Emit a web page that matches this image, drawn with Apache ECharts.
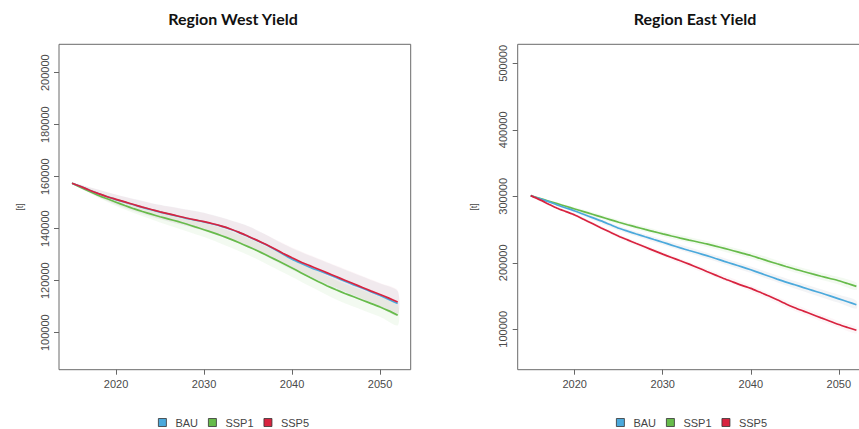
<!DOCTYPE html>
<html>
<head>
<meta charset="utf-8">
<script src="https://cdn.jsdelivr.net/npm/echarts@6/dist/echarts.min.js"></script>
<style>
html,body{margin:0;padding:0;background:#fff;}
#chart{width:859px;height:429px;}
</style>
</head>
<body>
<div id="chart"></div>
<script>
// ---------- data ----------
const years = [2015,2016,2017,2018,2019,2020,2021,2022,2023,2024,2025,2026,2027,2028,2029,2030,2031,2032,2033,2034,2035,2036,2037,2038,2039,2040,2041,2042,2043,2044,2045,2046,2047,2048,2049,2050,2051,2052];

const westBAU  = [157500,156200,154800,153500,152300,151200,150200,149200,148200,147300,146400,145600,144800,144000,143300,142600,141800,140900,139800,138500,137000,135500,133900,132100,130200,128300,126700,125200,123900,122600,121200,119800,118400,117100,115700,114300,112800,111200];
const westSSP1 = [157500,155900,154300,152800,151500,150200,148900,147700,146600,145600,144600,143700,142800,141800,140700,139600,138500,137300,136000,134600,133100,131600,130000,128300,126600,124900,123100,121300,119600,118000,116500,115100,113800,112500,111200,109900,108400,106700];
const westSSP5 = [157500,156200,154800,153500,152300,151300,150300,149300,148300,147400,146500,145700,144900,144100,143400,142700,141900,141000,139900,138600,137100,135600,134000,132300,130500,128800,127200,125800,124400,123000,121600,120200,118800,117400,116000,114700,113300,111800];

const eastBAU  = [301000,296500,292000,287000,282500,278000,273000,268000,263000,257500,252000,247600,243300,239100,235000,231000,226600,222400,218500,214700,210800,206500,202200,198000,193800,189500,184800,180200,175500,171000,167000,162700,158600,154500,150200,145800,141400,137000];
const eastSSP1 = [301000,297000,293000,289000,285000,281000,277000,273000,269000,265000,261000,257300,253700,250200,246800,243500,240300,237200,234200,231300,228400,225000,221700,218200,214600,211000,206800,202600,198500,194500,190600,186900,183300,179800,176400,173000,168800,164500];
const eastSSP5 = [301000,295000,288500,282000,277000,272000,265500,259000,252500,246200,240000,234500,229000,223700,218300,213000,208000,203000,198000,192600,187000,181500,176000,171000,166000,161500,156000,150500,144500,138200,132500,127400,122300,117200,112200,107200,102800,98500];

// uncertainty ribbons: half-widths read at these years
const bandYears = [2015,2020,2025,2030,2035,2040,2045,2050,2052];
const westBAUSpread  = [300,2000,2800,3500,4000,4200,4400,4600,4700];
const westSSP1Spread = [300,1500,2200,2800,3200,3500,3700,3800,3900];
const westSSP5Spread = [300,1800,2600,3300,3800,4000,4200,4400,4500];
const eastBAUSpread  = [300,2500,3500,4000,4500,5000,5500,6000,6000];
const eastSSP1Spread = [300,2500,3500,4000,4500,5000,5000,5500,5500];
const eastSSP5Spread = [300,2000,3000,3500,4000,4500,5000,5000,5000];

const xTicks = [2020,2030,2040,2050];
const westYTicks = [100000,120000,140000,160000,180000,200000];
const eastYTicks = [100000,200000,300000,400000,500000];

const scenarioNames = ['BAU','SSP1','SSP5'];
const titles = ['Region West Yield','Region East Yield'];
const yName = '[t]';

// ---------- styles ----------
const colors = {BAU:'#4BA9DC', SSP1:'#67BB4B', SSP5:'#D8233F'};
const bandColors = {BAU:'rgba(160,170,185,0.13)', SSP1:'rgba(120,195,100,0.09)', SSP5:'rgba(230,110,140,0.07)'};
const font = 'Liberation Sans, Arial, sans-serif';

function lineSeries(name, vals, gi){
  return {
    name: name, type:'line', xAxisIndex:gi, yAxisIndex:gi,
    data: years.map((y,i)=>[y, vals[i]]),
    showSymbol:false, symbol:'none', smooth:0.2,
    lineStyle:{color:colors[name], width:1.7},
    itemStyle:{color:colors[name]},
    z:3, silent:true
  };
}
function bandSeries(name, vals, spread, gi){
  const pts = bandYears.map((y,i)=>[y, vals[years.indexOf(y)] - spread[i], vals[years.indexOf(y)] + spread[i]]);
  return {
    name:name+'-band', type:'custom', xAxisIndex:gi, yAxisIndex:gi, silent:true, z:1,
    data: pts,
    encode:{x:0, y:[1,2]},
    renderItem:function(params, api){
      if (params.dataIndex !== 0) return null;
      const upper = pts.map(p=>api.coord([p[0], p[2]]));
      const lower = pts.slice().reverse().map(p=>api.coord([p[0], p[1]]));
      return {type:'polygon', shape:{points:upper.concat(lower), smooth:0.25},
              style:{fill:bandColors[name], stroke:null}};
    }
  };
}

const plotW = 351.7, plotH = 325.4, plotTop = 44.3;
const grids = [
  {left:59, top:plotTop, width:plotW, height:plotH, show:true, borderColor:'#6a6a6a', borderWidth:1, containLabel:false, outerBoundsMode:'none'},
  {left:517.7, top:plotTop, width:plotW, height:plotH, show:true, borderColor:'#6a6a6a', borderWidth:1, containLabel:false, outerBoundsMode:'none'}
];

function xAxis(gi){
  return {
    type:'value', gridIndex:gi, min:2013.52, max:2053.48,
    axisLine:{show:false}, splitLine:{show:false},
    axisTick:{show:true, inside:false, length:5, lineStyle:{color:'#666'}, customValues:xTicks},
    axisLabel:{color:'#4a4a4a', fontSize:11, fontFamily:font, margin:9, customValues:xTicks, formatter:v=>String(v)}
  };
}
function yAxis(gi, min, max, ticks, gap){
  return {
    type:'value', gridIndex:gi, min:min, max:max,
    name:yName, nameLocation:'middle', nameRotate:90, nameGap:gap,
    nameTextStyle:{color:'#444', fontSize:9, fontFamily:font},
    axisLine:{show:false}, splitLine:{show:false},
    axisTick:{show:true, inside:false, length:5, lineStyle:{color:'#666'}, customValues:ticks},
    axisLabel:{color:'#4a4a4a', fontSize:11, fontFamily:font, rotate:90, margin:9, customValues:ticks, formatter:v=>String(v)}
  };
}

const series = [];
[[westBAU,westSSP1,westSSP5,[westBAUSpread,westSSP1Spread,westSSP5Spread]],
 [eastBAU,eastSSP1,eastSSP5,[eastBAUSpread,eastSSP1Spread,eastSSP5Spread]]].forEach((set,gi)=>{
  series.push(bandSeries('BAU', set[0], set[3][0], gi));
  series.push(bandSeries('SSP1', set[1], set[3][1], gi));
  series.push(bandSeries('SSP5', set[2], set[3][2], gi));
  series.push(lineSeries('SSP1', set[1], gi));
  series.push(lineSeries('BAU', set[0], gi));
  series.push(lineSeries('SSP5', set[2], gi));
});

function legend(left){
  return {
    left:left, top:417, orient:'horizontal', padding:0,
    icon:'rect', itemWidth:8, itemHeight:8, itemGap:10,
    selectedMode:false,
    textStyle:{color:'#444', fontSize:11, fontFamily:font, width:34, padding:[0,0,0,4]},
    data: scenarioNames.map(n=>({name:n, itemStyle:{color:colors[n], borderColor:'#333', borderWidth:0.8}}))
  };
}

const titleStyle = {fontFamily:'Lato, Open Sans, sans-serif', fontWeight:'bold', fontSize:16, color:'#111'};
const chart = echarts.init(document.getElementById('chart'), null, {renderer:'svg'});
chart.setOption({
  backgroundColor:'#fff',
  animation:false,
  title:[
    {text:titles[0], left:233, top:10, padding:0, textAlign:'center', textStyle:titleStyle},
    {text:titles[1], left:695, top:10, padding:0, textAlign:'center', textStyle:titleStyle}
  ],
  grid:grids,
  xAxis:[xAxis(0), xAxis(1)],
  yAxis:[yAxis(0, 85770, 210923, westYTicks, 35), yAxis(1, 39250, 528600, eastYTicks, 39)],
  legend:[legend(158), legend(616)],
  series:series
});
</script>
</body>
</html>
